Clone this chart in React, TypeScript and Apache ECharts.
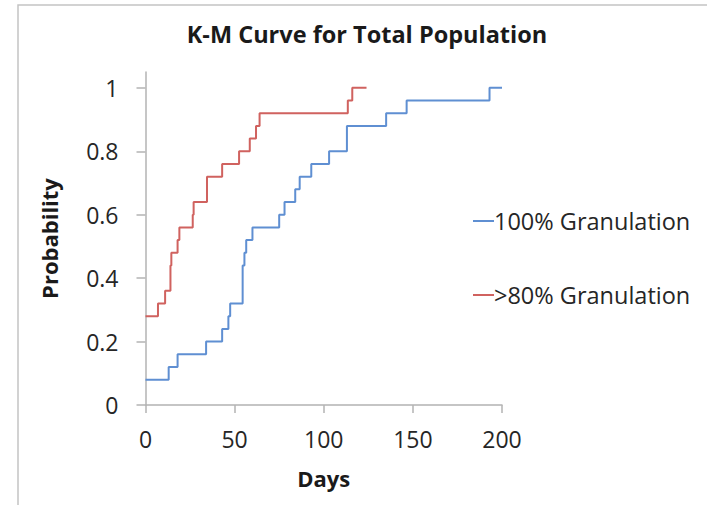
import React, { useEffect, useRef } from "react";
import * as echarts from "echarts";

const titleText = "K-M Curve for Total Population";
const xAxisName = "Days";
const yAxisName = "Probability";
const seriesNames = ["100% Granulation", ">80% Granulation"];

// Step change points: day at which level starts, and level
const blueDays = [0, 13, 18, 34, 43, 46.5, 47.5, 54.5, 55.5, 56.5, 60, 75, 78, 84, 86.5, 93, 103, 113, 135, 146.5, 193, 200];
const blueProb = [0.08, 0.12, 0.16, 0.2, 0.24, 0.28, 0.32, 0.44, 0.48, 0.52, 0.56, 0.6, 0.64, 0.68, 0.72, 0.76, 0.8, 0.88, 0.92, 0.96, 1.0, 1.0];

const redDays = [0, 7, 11, 14, 14.5, 18, 19, 26.5, 27, 34.5, 43, 52.5, 58.5, 62, 64, 113.5, 116, 124];
const redProb = [0.28, 0.32, 0.36, 0.44, 0.48, 0.52, 0.56, 0.6, 0.64, 0.72, 0.76, 0.8, 0.84, 0.88, 0.92, 0.96, 1.0, 1.0];

const xTicks = [0, 50, 100, 150, 200];
const yTicks = [0, 0.2, 0.4, 0.6, 0.8, 1];

const FONT = "Open Sans";
const BLUE = "#5F8FD2";
const RED = "#D0625F";
const AXIS = "#b3b3b3";

export default function App() {
  const ref = useRef<HTMLDivElement>(null);
  useEffect(() => {
    if (!ref.current) return;
    const chart = echarts.init(ref.current, undefined, { renderer: "svg" });
    const blueData = blueDays.map((d, i) => [d, blueProb[i]]);
    const redData = redDays.map((d, i) => [d, redProb[i]]);
    chart.setOption({
      animation: false,
      backgroundColor: "#ffffff",
      title: {
        text: titleText,
        left: 362,
        top: 17,
        textAlign: "center",
        textStyle: { fontFamily: FONT, fontSize: 23.5, fontWeight: "bold", color: "#1a1a1a" },
      },
      graphic: [
        {
          type: "rect",
          shape: { x: 18, y: 5, width: 720, height: 520 },
          style: { fill: "none", stroke: "#c4c4c4", lineWidth: 1.5 },
          silent: true,
        },
      ],
      legend: {
        orient: "vertical",
        left: 468,
        top: 204,
        itemGap: 50,
        itemWidth: 21,
        itemHeight: 2,
        icon: "rect",
        textStyle: { fontFamily: FONT, fontSize: 23.5, color: "#262626", padding: [0, 0, 0, -5] },
        data: seriesNames,
      },
      grid: { left: 145.5, right: 205, top: 72, bottom: 100, containLabel: false },
      xAxis: {
        type: "value",
        min: 0,
        max: 200,
        interval: 50,
        name: xAxisName,
        nameLocation: "middle",
        nameGap: 62,
        nameTextStyle: { fontFamily: FONT, fontSize: 22, fontWeight: "bold", color: "#1a1a1a" },
        axisLine: { show: true, lineStyle: { color: AXIS, width: 1.5 } },
        axisTick: { show: true, length: 8, lineStyle: { color: AXIS, width: 1.5 } },
        axisLabel: {
          fontFamily: FONT,
          fontSize: 23,
          color: "#262626",
          margin: 22,
          formatter: (v: number) => (xTicks.includes(v) ? String(v) : ""),
        },
        splitLine: { show: false },
      },
      yAxis: {
        type: "value",
        min: 0,
        max: 1.05,
        interval: 0.2,
        name: yAxisName,
        nameLocation: "middle",
        nameGap: 86,
        nameRotate: 90,
        nameTextStyle: { fontFamily: FONT, fontSize: 22, fontWeight: "bold", color: "#1a1a1a" },
        axisLine: { show: true, lineStyle: { color: AXIS, width: 1.5 } },
        axisTick: { show: true, length: 9, lineStyle: { color: AXIS, width: 1.5 } },
        axisLabel: {
          fontFamily: FONT,
          fontSize: 23,
          color: "#262626",
          margin: 27,
          showMaxLabel: false,
          formatter: (v: number) => {
            const r = Math.round(v * 10) / 10;
            return yTicks.some((t) => Math.abs(t - r) < 1e-6) && Math.abs(v - r) < 1e-6 ? String(r) : "";
          },
        },
        splitLine: { show: false },
      },
      series: [
        {
          name: seriesNames[0],
          type: "line",
          step: "end",
          data: blueData,
          showSymbol: false,
          symbol: "none",
          lineStyle: { color: BLUE, width: 2 },
          itemStyle: { color: BLUE },
        },
        {
          name: seriesNames[1],
          type: "line",
          step: "end",
          data: redData,
          showSymbol: false,
          symbol: "none",
          lineStyle: { color: RED, width: 2 },
          itemStyle: { color: RED },
        },
      ],
    });
    return () => chart.dispose();
  }, []);
  return <div ref={ref} style={{ width: 707, height: 505, position: "fixed", left: 0, top: 0 }} />;
}
